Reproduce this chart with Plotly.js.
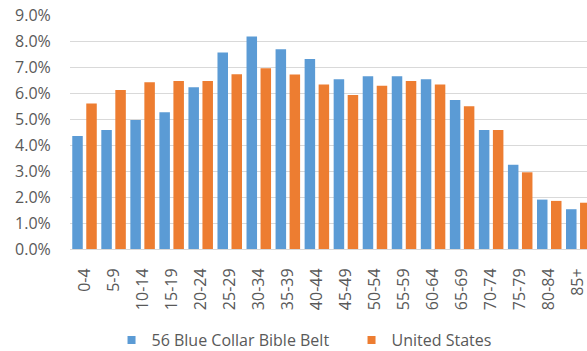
<!DOCTYPE html>
<html>
<head>
<meta charset="utf-8">
<script src="https://cdn.plot.ly/plotly-3.0.1.min.js"></script>
<style>
html,body{margin:0;padding:0;background:#fff;overflow:hidden;}
#chart{width:587px;height:351px;}
</style>
</head>
<body>
<div id="chart"></div>
<script>
const categories = ["0-4","5-9","10-14","15-19","20-24","25-29","30-34","35-39","40-44","45-49","50-54","55-59","60-64","65-69","70-74","75-79","80-84","85+"];
const blueCollar = [0.0435,0.0458,0.0496,0.0526,0.0622,0.0756,0.0817,0.0768,0.0731,0.0653,0.0664,0.0664,0.0653,0.0573,0.0458,0.0324,0.0190,0.0153];
const unitedStates = [0.0560,0.0612,0.0641,0.0646,0.0646,0.0672,0.0695,0.0671,0.0633,0.0592,0.0628,0.0646,0.0633,0.0549,0.0458,0.0295,0.0185,0.0178];
const seriesNames = ["56 Blue Collar Bible Belt","United States"];

const font = {family:"Open Sans, sans-serif", size:16, color:"#595959"};

const data = [
  {type:"bar", x:categories, y:blueCollar, name:seriesNames[0], marker:{color:"#5B9BD5"}, showlegend:false, hoverinfo:"skip"},
  {type:"bar", x:categories, y:unitedStates, name:seriesNames[1], marker:{color:"#ED7D31"}, showlegend:false, hoverinfo:"skip"},
  {type:"scatter", mode:"markers", x:[null], y:[null], name:seriesNames[0], marker:{symbol:"square", size:8, color:"#5B9BD5"}},
  {type:"scatter", mode:"markers", x:[null], y:[null], name:seriesNames[1], marker:{symbol:"square", size:8, color:"#ED7D31"}}
];

const layout = {
  width:587, height:351,
  margin:{l:70, r:0, t:15, b:102},
  paper_bgcolor:"#fff", plot_bgcolor:"#fff",
  font:font,
  barmode:"group", bargap:0.035, bargroupgap:0.25,
  xaxis:{
    type:"category", range:[-0.5,17.30], tickangle:-90,
    tickfont:font, showgrid:false, showline:true, linecolor:"#D9D9D9", linewidth:1,
    ticks:"outside", ticklen:12, tickcolor:"rgba(0,0,0,0)", fixedrange:true
  },
  yaxis:{
    range:[0,0.09], dtick:0.01, tickformat:".1%",
    tickfont:font, showgrid:true, gridcolor:"#D9D9D9", gridwidth:1, zeroline:false,
    showline:false, ticks:"outside", ticklen:15, tickcolor:"rgba(0,0,0,0)", fixedrange:true
  },
  legend:{
    orientation:"h", xref:"container", x:0.19, xanchor:"left", yref:"container", y:0.031, yanchor:"middle",
    font:font, itemwidth:30, entrywidth:195, entrywidthmode:"pixels", bgcolor:"rgba(0,0,0,0)"
  },
  showlegend:true
};

Plotly.newPlot("chart", data, layout, {displayModeBar:false, staticPlot:true});
</script>
</body>
</html>
